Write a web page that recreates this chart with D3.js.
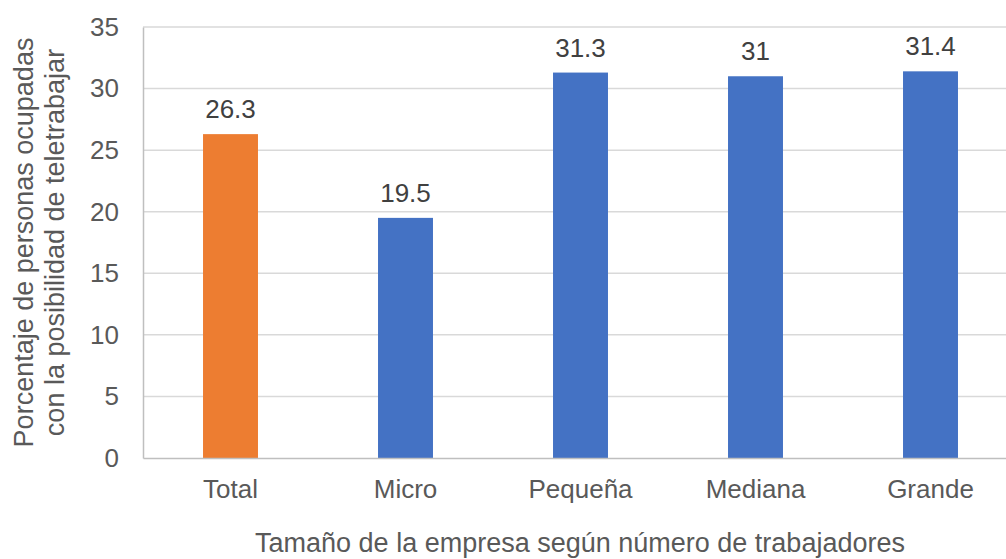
<!DOCTYPE html>
<html>
<head>
<meta charset="utf-8">
<script src="https://cdn.jsdelivr.net/npm/d3@7"></script>
<style>
  html, body { margin: 0; padding: 0; background: #fff; }
  svg { display: block; font-family: "Liberation Sans", Arial, sans-serif; }
</style>
</head>
<body>
<svg id="chart" width="1006" height="559"></svg>
<script>
// Teleworking potential by company size
const categories = ["Total", "Micro", "Pequeña", "Mediana", "Grande"];
const values = [26.3, 19.5, 31.3, 31, 31.4];
const barColors = ["#ED7D31", "#4472C4", "#4472C4", "#4472C4", "#4472C4"];
const yTicks = [0, 5, 10, 15, 20, 25, 30, 35];
const xTitle = "Tamaño de la empresa según número de trabajadores";
const yTitleLines = ["Porcentaje de personas ocupadas", "con la posibilidad de teletrabajar"];

const svg = d3.select("#chart");
const textColor = "#595959";

const plot = { left: 143, right: 1018, top: 27, bottom: 458 };

const x = d3.scaleBand()
  .domain(categories)
  .range([plot.left, plot.right])
  .paddingInner(0.686)
  .paddingOuter(0.343);

const y = d3.scaleLinear()
  .domain([0, 35])
  .range([plot.bottom, plot.top]);

// horizontal gridlines
svg.append("g")
  .selectAll("line")
  .data(yTicks.filter(d => d > 0))
  .join("line")
  .attr("x1", plot.left)
  .attr("x2", plot.right)
  .attr("y1", d => y(d))
  .attr("y2", d => y(d))
  .attr("stroke", "#d9d9d9")
  .attr("stroke-width", 1.5);

// bars
svg.append("g")
  .selectAll("rect")
  .data(categories)
  .join("rect")
  .attr("x", d => x(d))
  .attr("width", x.bandwidth())
  .attr("y", (d, i) => y(values[i]))
  .attr("height", (d, i) => y(0) - y(values[i]))
  .attr("fill", (d, i) => barColors[i]);

// value labels
svg.append("g")
  .selectAll("text")
  .data(categories)
  .join("text")
  .attr("x", d => x(d) + x.bandwidth() / 2)
  .attr("y", (d, i) => y(values[i]) - 16)
  .attr("text-anchor", "middle")
  .attr("font-size", 26)
  .attr("fill", "#404040")
  .text((d, i) => String(values[i]));

// y axis
const yAxis = svg.append("g")
  .attr("transform", `translate(${plot.left},0)`)
  .call(d3.axisLeft(y).tickValues(yTicks).tickSize(0).tickPadding(24));
yAxis.select(".domain").attr("stroke", "#bfbfbf").attr("stroke-width", 1.5);
yAxis.selectAll("text")
  .attr("font-size", 26)
  .attr("fill", textColor)
  .attr("font-family", "Liberation Sans, Arial, sans-serif");

// x axis
const xAxis = svg.append("g")
  .attr("transform", `translate(0,${plot.bottom})`)
  .call(d3.axisBottom(x).tickSize(0).tickPadding(22));
xAxis.select(".domain").attr("stroke", "#bfbfbf").attr("stroke-width", 1.5);
xAxis.selectAll("text")
  .attr("font-size", 26)
  .attr("fill", textColor)
  .attr("font-family", "Liberation Sans, Arial, sans-serif");

// x axis title
svg.append("text")
  .attr("x", 580)
  .attr("y", 552)
  .attr("text-anchor", "middle")
  .attr("font-size", 27)
  .attr("fill", textColor)
  .text(xTitle);

// y axis title
const yMid = (plot.top + plot.bottom) / 2;
svg.append("g")
  .selectAll("text")
  .data(yTitleLines)
  .join("text")
  .attr("transform", (d, i) => `translate(${33 + i * 31},${yMid}) rotate(-90)`)
  .attr("text-anchor", "middle")
  .attr("font-size", 27)
  .attr("fill", textColor)
  .text(d => d);
</script>
</body>
</html>
